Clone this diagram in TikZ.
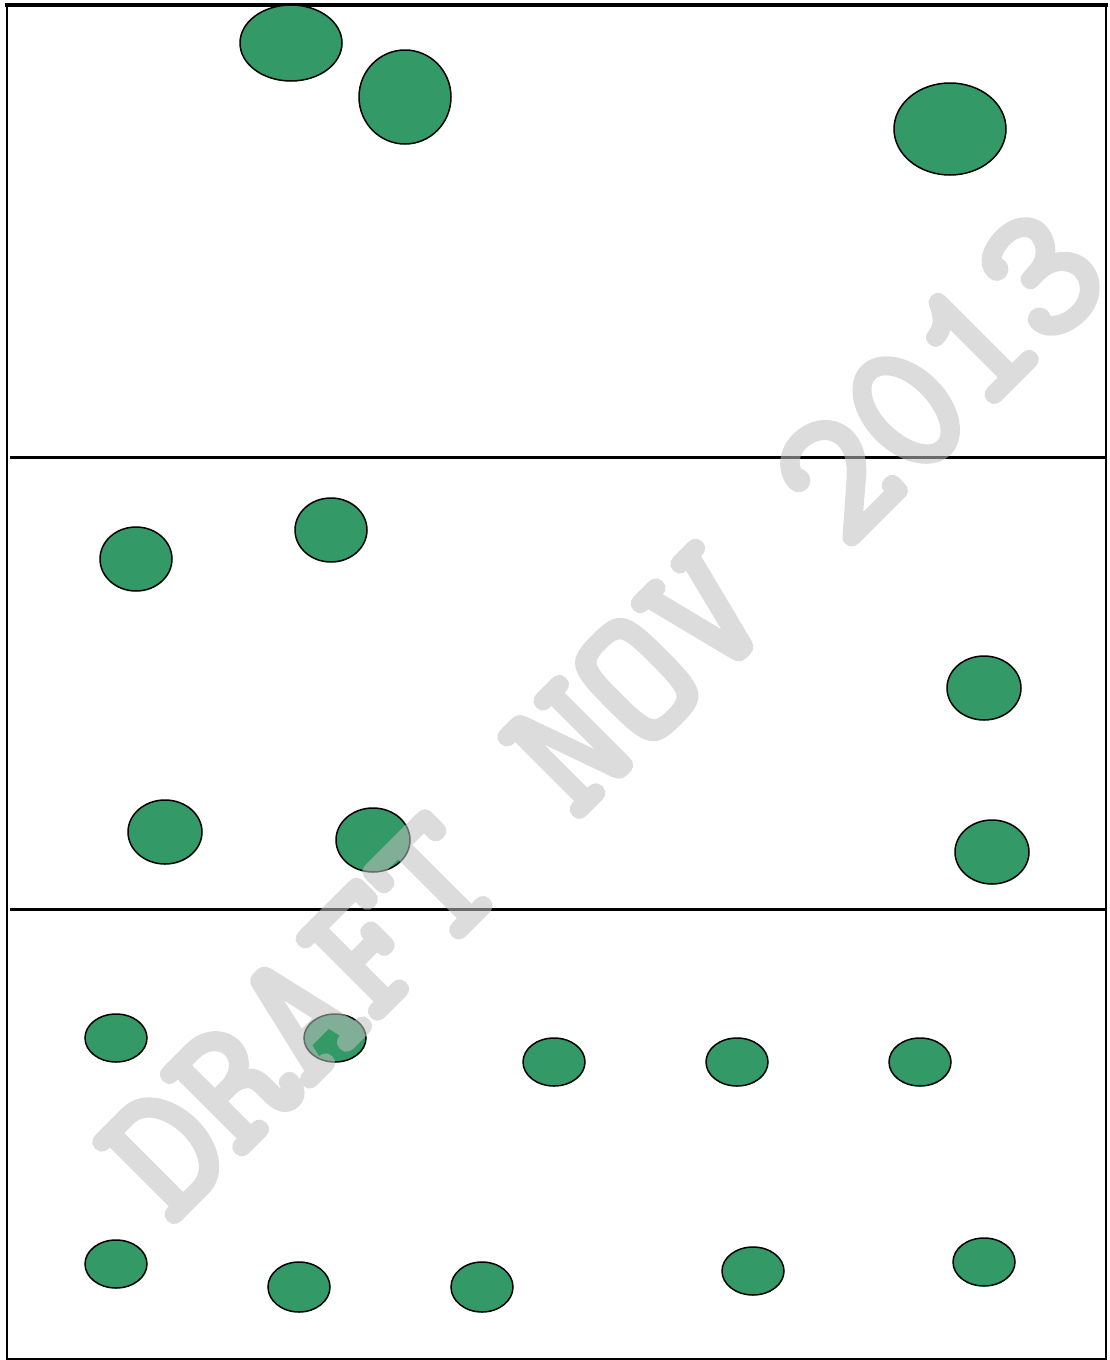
\documentclass[tikz,border=0pt]{standalone}
\usepackage{fontspec}
\newfontfamily\wmfont{Latin Modern Mono}[FakeBold=4.5]
\usetikzlibrary{shapes.geometric}
\definecolor{dotgreen}{RGB}{51,153,102}
\definecolor{wmgray}{RGB}{192,192,192}
\tikzset{
  dot/.style={ellipse, draw=black, line width=1.5pt, fill=dotgreen, inner sep=0pt},
  frame/.style={draw=black, line cap=rect},
  watermark/.style={text=wmgray, rotate=45, inner sep=0pt,
    font=\wmfont\fontsize{185}{185}\selectfont}
}
\begin{document}
\begin{tikzpicture}[x=1pt,y=-1pt]
\useasboundingbox (0,0) rectangle (1109,1360);
% frame
\coordinate (tl) at (6.5,4.5);
\coordinate (tr) at (1106,4.5);
\coordinate (bl) at (6.5,1358.5);
\coordinate (br) at (1106,1358.5);
\draw[frame, line width=4pt] (tl) -- (tr);
\draw[frame, line width=2pt] (tl) -- (bl);
\draw[frame, line width=2pt] (tr) -- (br);
\draw[frame, line width=2pt] (bl) -- (br);
\coordinate (h1l) at (10,457);
\coordinate (h1r) at (1106,457);
\coordinate (h2l) at (10,909);
\coordinate (h2r) at (1106,909);
\draw[line width=3pt] (h1l) -- (h1r);
\draw[line width=3pt] (h2l) -- (h2r);
% panel 1
\node[dot, minimum width=102pt, minimum height=76pt] (a1) at (291,43) {};
\node[dot, minimum width=92pt, minimum height=94pt] (a2) at (405,97) {};
\node[dot, minimum width=112pt, minimum height=92pt] (a3) at (950,129) {};
% panel 2
\node[dot, minimum width=72pt, minimum height=64pt] (b1) at (136,559) {};
\node[dot, minimum width=72pt, minimum height=64pt] (b2) at (331,530) {};
\node[dot, minimum width=74pt, minimum height=64pt] (b3) at (984,688) {};
\node[dot, minimum width=74pt, minimum height=64pt] (b4) at (165,832) {};
\node[dot, minimum width=74pt, minimum height=64pt] (b5) at (373,840) {};
\node[dot, minimum width=74pt, minimum height=64pt] (b6) at (992,852) {};
% panel 3
\node[dot, minimum width=62pt, minimum height=48pt] (c1) at (116,1038) {};
\node[dot, minimum width=62pt, minimum height=48pt] (c2) at (335,1038) {};
\node[dot, minimum width=62pt, minimum height=48pt] (c3) at (554,1062) {};
\node[dot, minimum width=62pt, minimum height=48pt] (c4) at (737,1062) {};
\node[dot, minimum width=62pt, minimum height=48pt] (c5) at (920,1062) {};
\node[dot, minimum width=62pt, minimum height=48pt] (c6) at (116,1264) {};
\node[dot, minimum width=62pt, minimum height=50pt] (c7) at (299,1287) {};
\node[dot, minimum width=62pt, minimum height=50pt] (c8) at (482,1287) {};
\node[dot, minimum width=62pt, minimum height=48pt] (c9) at (753,1271) {};
\node[dot, minimum width=62pt, minimum height=48pt] (c10) at (984,1262) {};
% watermark
\begin{scope}[transparency group, opacity=0.55]
\node[watermark] (wm) at (603,713) {DRAFT NOV 2013};
\end{scope}
\end{tikzpicture}
\end{document}
